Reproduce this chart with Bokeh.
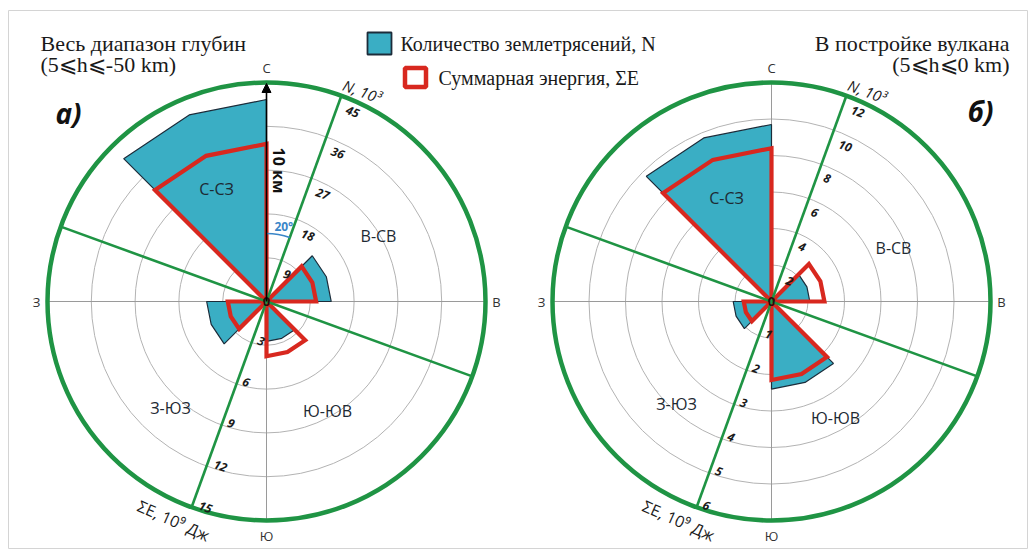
import math
from bokeh.plotting import figure
from bokeh.models import Range1d, Arrow, NormalHead
from bokeh.embed import file_html
from bokeh.resources import INLINE
from bokeh.core.properties import value

# ---------------- data ----------------
sector_start = [315, 45, 135, 225]          # bearing of sector start, deg clockwise from north
sector_width = 45
left_count = [41.5, 13.3, 8.2, 12.3]        # N, 10^3
left_energy = [10.8, 3.4, 3.75, 2.65]       # ΣE, 10^9 Дж
right_count = [9.7, 2.1, 4.8, 2.1]
right_energy = [4.2, 1.45, 2.15, 0.76]
left_count_ticks = [9, 18, 27, 36, 45]
left_energy_ticks = [3, 6, 9, 12, 15]
right_count_ticks = [2, 4, 6, 8, 10, 12]
right_energy_ticks = [1, 2, 3, 4, 5, 6]
quadrant_labels = ["С-СЗ", "В-СВ", "Ю-ЮВ", "З-ЮЗ"]
compass_labels = ["С", "В", "Ю", "З"]
titles_left = ["Весь диапазон глубин", "(5⩽h⩽-50 km)"]
titles_right = ["В постройке вулкана", "(5⩽h⩽0 km)"]
legend_labels = ["Количество землетрясений, N", "Суммарная энергия, ΣE"]
axis_count_label = "N, 10³"
axis_energy_label = "ΣE, 10⁹ Дж"

BLUE = "#3aaec4"
DARK = "#1c2c3a"
RED = "#d8281f"
GREEN = "#1f9444"
GRID = "#b3b3b3"

W, H = 1020, 539
p = figure(width=W + 8, height=H + 10, x_range=Range1d(0, W), y_range=Range1d(-2, H - 2),
           output_backend="svg", toolbar_location=None,
           min_border_left=8, min_border_top=10, min_border_right=0, min_border_bottom=0)
p.axis.visible = False
p.grid.visible = False
p.outline_line_color = "#d4d4d4"
p.background_fill_color = "white"
p.border_fill_color = "white"

SANS = value("Open Sans")
SERIF = value("Liberation Serif")
deg = math.pi / 180


def pol(cx, cy, r, b):
    return cx + r * math.sin(b * deg), cy + r * math.cos(b * deg)


def txt(x, y, s, size, font=SANS, color="#222222", style="normal", align="center",
        base="middle", angle=0.0):
    p.text(x=[x], y=[y], text=[s], text_font=font, text_font_size=size,
           text_color=color, text_font_style=style, text_align=align,
           text_baseline=base, angle=angle)


def sector_xy(cx, cy, r, s):
    xs, ys = [cx], [cy]
    for b in (s, s + sector_width / 2, s + sector_width):
        x, y = pol(cx, cy, r, b)
        xs.append(x)
        ys.append(y)
    return xs, ys


def rose(cx, cy, R, counts, energies, cticks, eticks, quad_pos, arrow):
    nmax, emax = cticks[-1], eticks[-1]
    # grid circles
    for t in cticks[:-1]:
        p.circle(x=[cx], y=[cy], radius=t / nmax * R, fill_color=None,
                 line_color=GRID, line_width=1)
    # axes lines
    p.line([cx - R, cx + R], [cy, cy], line_color="#9a9a9a", line_width=1)
    if arrow:
        p.line([cx, cx], [cy - R, cy], line_color="#9a9a9a", line_width=1)
    else:
        p.line([cx, cx], [cy - R, cy + R], line_color="#9a9a9a", line_width=1)
    # count sectors (filled)
    for s, n in zip(sector_start, counts):
        xs, ys = sector_xy(cx, cy, n / nmax * R, s)
        p.patch(xs, ys, fill_color=BLUE, line_color=DARK, line_width=1.2)
    # energy sectors (outline)
    for s, e in zip(sector_start, energies):
        xs, ys = sector_xy(cx, cy, e / emax * R, s)
        p.line(xs + [cx], ys + [cy], line_color=RED, line_width=4.2, line_join="miter")
    if arrow:
        p.add_layout(Arrow(end=NormalHead(size=9, fill_color="black", line_color="black"),
                           x_start=cx, y_start=cy, x_end=cx, y_end=cy + R - 1,
                           line_color="black", line_width=1.6))
    # green lines & outer circle
    for b in (20, 110):
        x1, y1 = pol(cx, cy, R, b)
        x2, y2 = pol(cx, cy, R, b + 180)
        p.line([x1, x2], [y1, y2], line_color=GREEN, line_width=2.6)
    p.circle(x=[cx], y=[cy], radius=R, fill_color=None, line_color=GREEN, line_width=4.5)
    # tick labels along the green axis
    for t in cticks:
        r = t / nmax * R - 11
        x, y = pol(cx, cy, r, 20)
        d = 4 + 6 * len(str(t))
        x += d * math.sin(110 * deg)
        y += d * math.cos(110 * deg)
        txt(x, y, str(t), "12px", style="bold italic", color="#1a1a1a", angle=-20 * deg)
    for t in eticks:
        r = t / emax * R - 5
        x, y = pol(cx, cy, r, 200)
        d = 4 + 4.5 * len(str(t))
        x += d * math.sin(110 * deg)
        y += d * math.cos(110 * deg)
        txt(x, y, str(t), "12px", style="bold italic", color="#1a1a1a", angle=-20 * deg)
    txt(cx, cy, "0", "13px", style="bold", color="#2a0a0a")
    # compass labels
    for lab, b, off in zip(compass_labels, (0, 90, 180, 270), (15, 11, 15, 11)):
        x, y = pol(cx, cy, R + off, b)
        txt(x, y, lab, "13px", color="#333333")
    # quadrant labels
    for lab, (dx, dy) in zip(quadrant_labels, quad_pos):
        txt(cx + dx, cy + dy, lab, "16px", color="#1e2a33")
    # axis names
    x, y = pol(cx, cy, 231, 24.5)
    txt(x, y, axis_count_label, "15px", style="italic", color="#1a1a1a", angle=-20 * deg)
    x, y = pol(cx, cy, 238, 203)
    txt(x, y, axis_energy_label, "16px", color="#1a1a1a", angle=-24 * deg)


CY = 246
R = 219
LX, RX = 258, 763

rose(LX, CY, R, left_count, left_energy, left_count_ticks, left_energy_ticks,
     [(-50, 113), (112, 66), (61, -109), (-96, -106)], arrow=True)
rose(RX, CY, R, right_count, right_energy, right_count_ticks, right_energy_ticks,
     [(-45, 104), (122, 54), (64, -116), (-95, -102)], arrow=False)

# left-only annotations: 20° arc and "10 км"
p.arc(x=[LX], y=[CY], radius=68, start_angle=70 * deg, end_angle=90 * deg,
      line_color="#3a86c8", line_width=1.6)
x, y = pol(LX, CY, 77, 13)
txt(x, y, "20°", "12px", style="bold", color="#3a86c8")
txt(LX + 12, CY + 131, "10 км", "16px", style="bold", color="#111111", angle=-90 * deg)

# titles
txt(32, 504, titles_left[0], "22px", font=SERIF, align="left", color="#1a1a1a")
txt(32, 483, titles_left[1], "22px", font=SERIF, align="left", color="#1a1a1a")
txt(1001, 504, titles_right[0], "22px", font=SERIF, align="right", color="#1a1a1a")
txt(1001, 483, titles_right[1], "22px", font=SERIF, align="right", color="#1a1a1a")

# panel letters
txt(60, 435, "а)", "28px", style="bold italic", color="#111111")
txt(972, 437, "б)", "28px", style="bold italic", color="#111111")

# legend
p.rect(x=[371], y=[504], width=24, height=22, fill_color=BLUE, line_color=DARK, line_width=1.8)
txt(392, 504, legend_labels[0], "20px", font=SERIF, align="left", color="#1a1a1a")
p.rect(x=[407], y=[470], width=21, height=19, fill_color="white", line_color=RED, line_width=4.5)
txt(430, 470, legend_labels[1], "20px", font=SERIF, align="left", color="#1a1a1a")

open("out.html", "w").write(file_html(p, INLINE))
